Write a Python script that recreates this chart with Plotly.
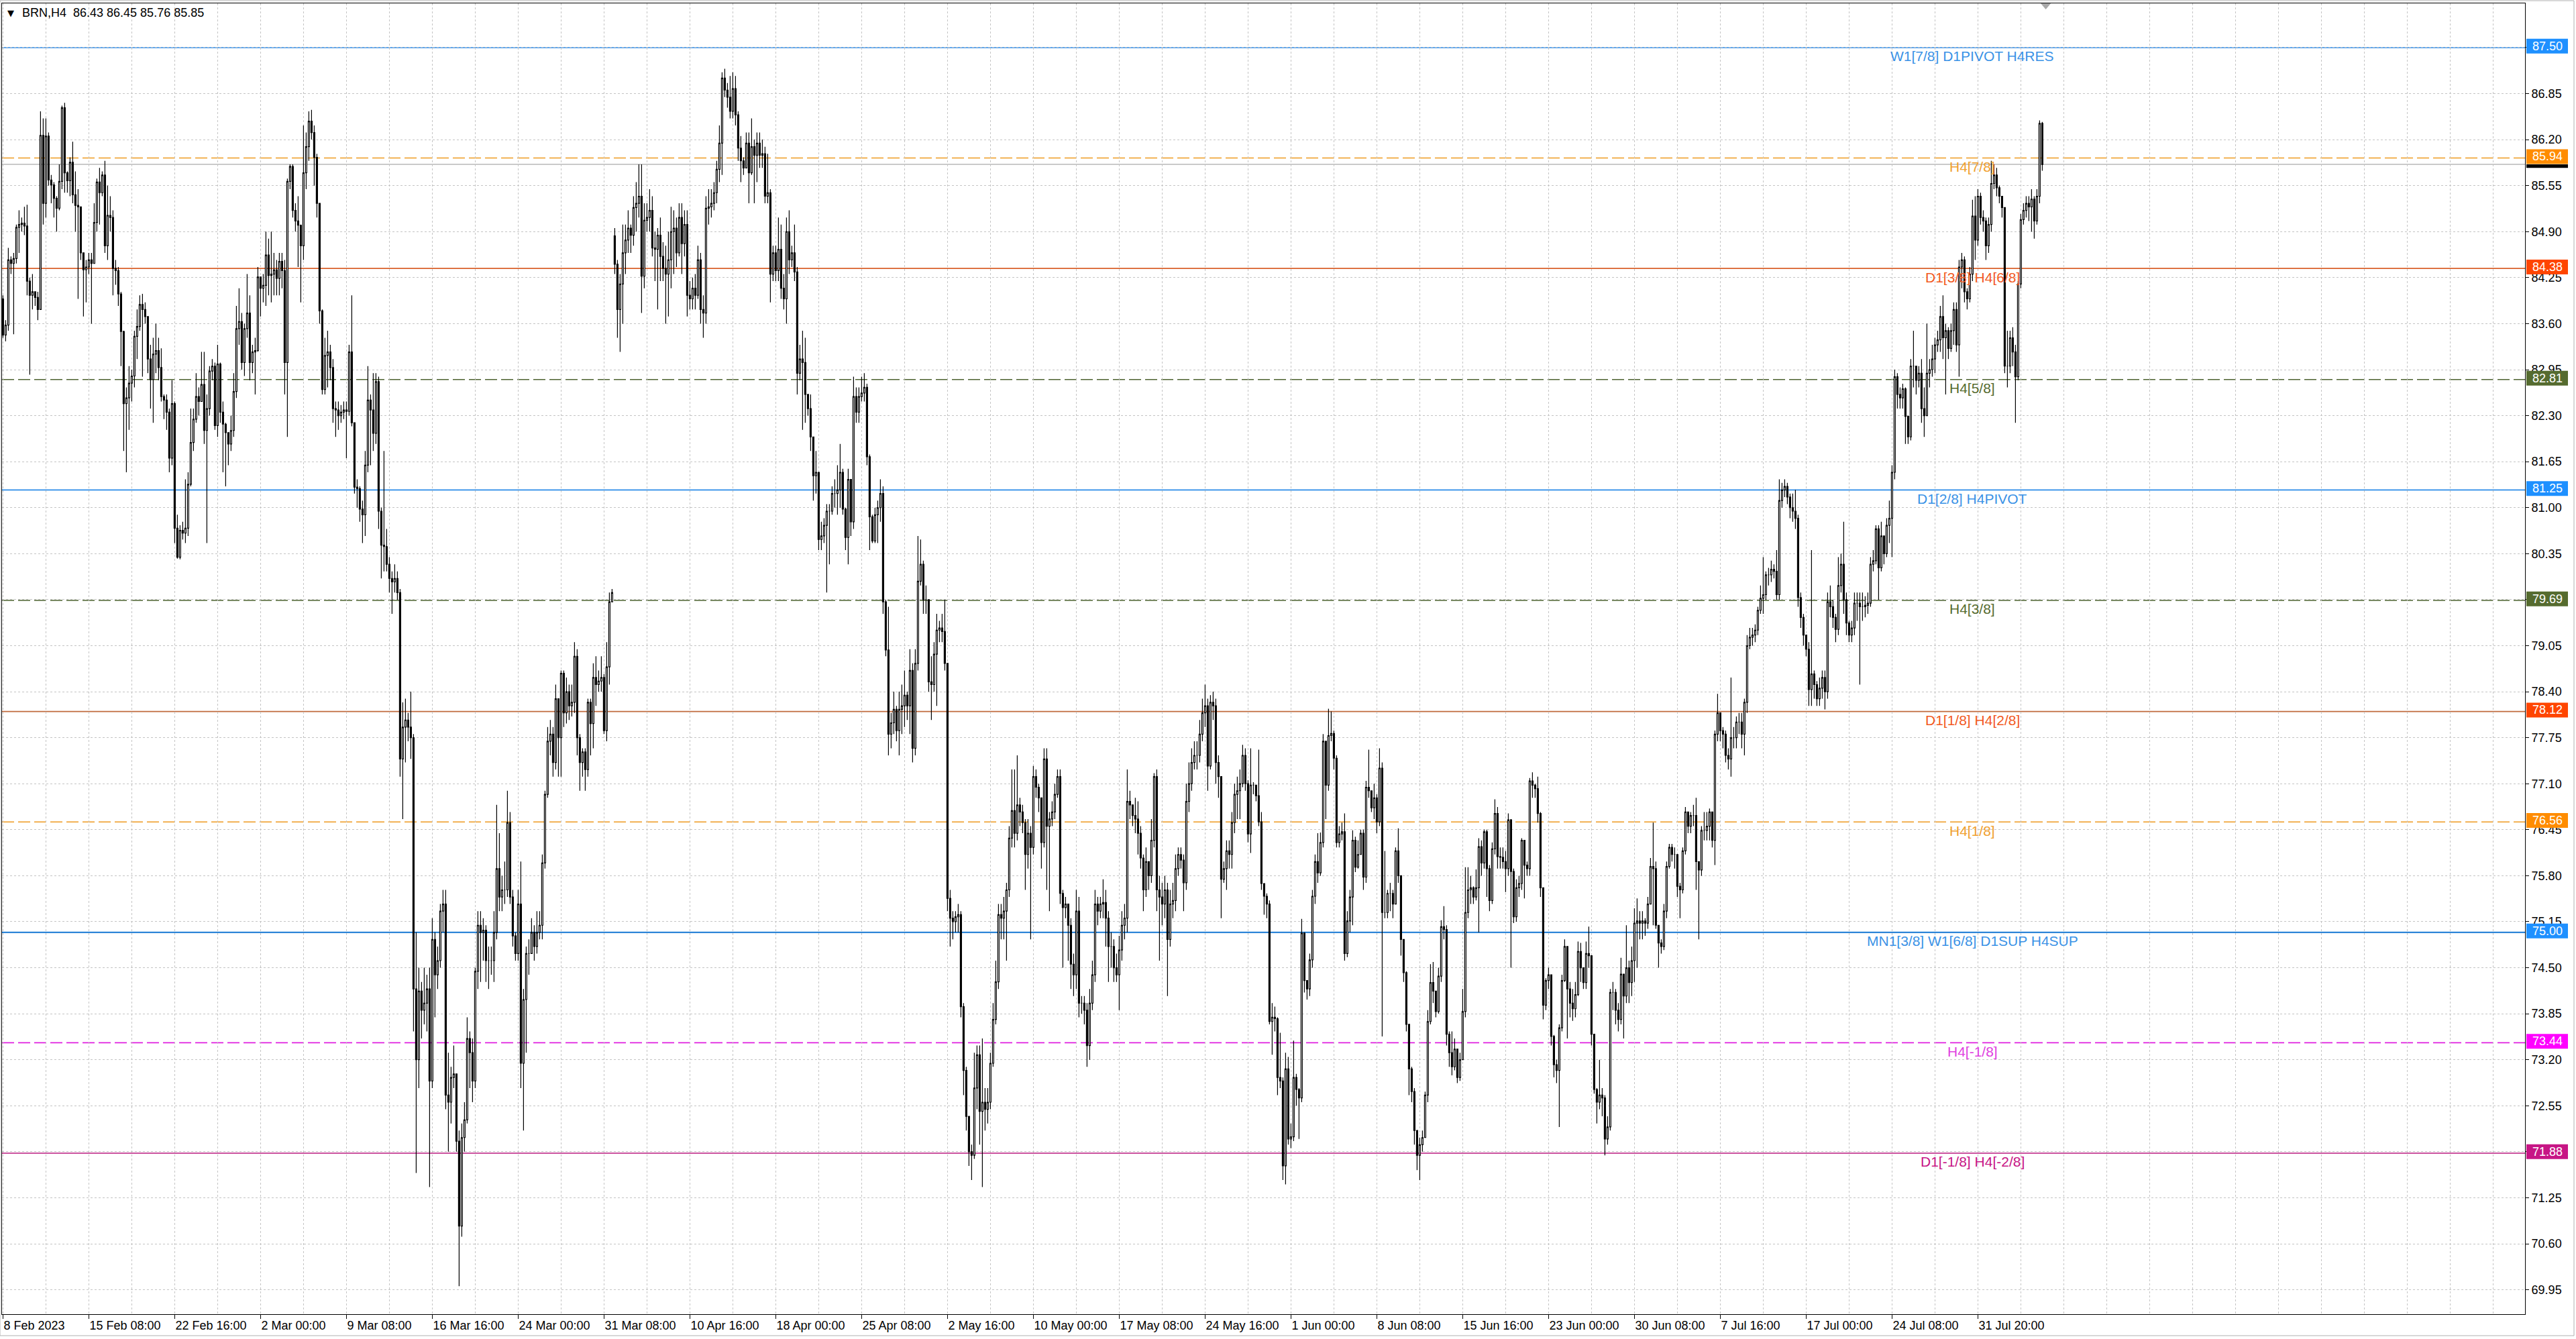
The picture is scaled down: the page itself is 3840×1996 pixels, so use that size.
# BRN H4 candlestick chart with Murrey-style level lines, MT4 look
import plotly.graph_objects as go

# ---- data (H4 bars, index 0 = 8 Feb 2023 00:00) ----
first_open = 83.95
gap_open = {228: 84.84}   # weekend gap after 31 Mar

close_px = [
    83.44, 83.58, 84.50, 84.45, 84.52, 84.96, 85.00, 85.02, 84.98, 84.20,
    84.00, 84.05, 83.97, 83.80, 86.26, 85.30, 86.25, 85.63, 85.56, 85.37,
    85.23, 85.61, 86.65, 85.73, 85.62, 85.88, 85.42, 85.27, 85.25, 84.60,
    84.36, 84.40, 84.50, 84.45, 85.03, 85.60, 85.45, 85.70, 84.70, 85.13,
    85.10, 84.38, 84.35, 84.02, 83.49, 82.47, 82.55, 82.76, 82.86, 83.42,
    83.56, 83.87, 83.80, 83.70, 83.10, 82.81, 83.17, 83.22, 82.98, 82.57,
    82.52, 82.35, 81.70, 82.47, 80.71, 80.30, 80.68, 80.64, 80.71, 81.33,
    81.92, 82.25, 82.57, 82.50, 82.74, 82.09, 82.40, 82.93, 83.00, 82.16,
    83.03, 82.35, 82.18, 82.06, 81.90, 82.09, 82.64, 83.53, 83.63, 83.05,
    83.53, 83.75, 83.05, 83.20, 83.22, 84.26, 84.10, 84.14, 84.57, 84.28,
    84.30, 84.36, 84.24, 84.48, 84.35, 83.05, 85.61, 85.82, 85.20, 85.05,
    84.99, 84.70, 85.73, 86.10, 86.46, 86.30, 85.95, 85.30, 83.78, 82.67,
    83.15, 83.20, 82.98, 82.40, 82.38, 82.30, 82.35, 82.38, 82.36, 83.20,
    82.20, 81.29, 81.27, 80.98, 80.90, 81.60, 82.52, 82.38, 82.05, 82.78,
    80.95, 80.47, 80.45, 80.20, 80.00, 79.95, 80.00, 79.80, 77.45,
    77.90, 78.00, 77.90, 77.75, 74.20, 73.20, 74.17, 73.90, 74.00, 74.20,
    72.90, 74.90, 74.40, 74.60, 75.30, 75.40, 72.70, 72.60, 72.95, 73.00,
    72.05, 70.85, 72.10, 72.35, 73.50, 73.30, 72.90, 74.45, 75.10, 75.00,
    75.03, 74.60, 74.60, 74.60, 75.00, 75.90, 75.50, 75.60, 75.60, 76.55,
    75.50, 74.95, 74.70, 75.40, 73.15, 74.05, 74.70, 74.70, 75.00, 74.80,
    75.00, 75.10, 75.98, 76.95, 77.70, 77.80, 77.40, 78.30, 77.75, 78.66,
    78.10, 78.40, 78.20, 78.25, 78.90, 77.75, 77.40, 77.55, 77.30, 78.25,
    77.95, 78.60, 78.50, 78.55, 78.60, 77.85, 78.75, 79.67, 79.80,
    84.44, 83.80, 84.16, 84.60, 84.78, 84.95, 84.85, 85.24, 85.30, 85.40,
    84.27, 85.06, 85.10, 85.20, 84.67, 84.65, 84.85, 84.55, 84.38, 84.30,
    84.50, 84.90, 84.95, 84.60, 85.10, 84.73, 85.00, 84.00, 83.95, 84.10,
    84.00, 84.50, 83.80, 83.75, 85.23, 85.25, 85.30, 85.45, 85.78, 86.15,
    87.07, 86.90, 86.80, 86.60, 86.92, 86.55, 86.08, 85.90, 85.80, 86.15,
    85.73, 86.10, 85.98, 86.15, 85.98, 86.00, 85.40, 85.45, 84.30, 84.60,
    84.35, 84.65, 84.10, 83.95, 84.90, 84.50, 84.60, 84.33, 82.90, 83.10,
    83.05, 82.60, 82.40, 82.00, 81.45, 81.50, 80.55, 80.60, 80.75, 80.95,
    80.95, 81.20, 81.20, 81.25, 81.50, 80.98, 80.58, 81.40, 80.80, 82.57,
    82.35, 82.57, 82.62, 82.70, 81.72, 80.87, 80.53, 80.90, 81.00, 81.20,
    79.67, 78.99, 77.80, 77.96, 78.15, 77.85, 78.15, 78.20, 78.35, 78.20,
    78.70, 77.60, 78.80, 79.96, 80.20, 79.70, 79.70, 78.54, 78.50, 78.93,
    79.27, 79.30, 79.25, 78.80, 75.48, 75.20, 75.15, 75.22, 75.25, 73.95,
    73.05, 72.40, 71.90, 71.85, 72.80, 73.27, 72.47, 72.60, 72.50, 72.60,
    73.15, 73.77, 74.30, 75.25, 75.20, 75.30, 75.60, 76.33, 76.72, 76.40,
    76.80, 76.70, 76.55, 76.10, 76.40, 76.20, 77.20, 77.05, 76.90, 76.27,
    77.45, 76.50, 76.60, 76.70, 76.95, 77.20, 75.55, 75.35, 75.40, 75.10,
    74.55, 74.40, 75.30, 74.00, 74.00, 73.90, 73.40, 74.00, 74.40, 75.40,
    75.30, 75.40, 75.42, 75.20, 74.80, 74.80, 74.50, 74.40, 74.75, 75.10,
    75.20, 76.85, 76.80, 76.65, 76.60, 76.40, 76.05, 75.60, 76.00, 75.80,
    76.30, 77.20, 75.60, 75.50, 75.40, 75.60, 74.90, 75.40, 75.45, 75.90,
    76.10, 76.02, 75.70, 76.85, 77.10, 77.40, 77.50, 77.50, 77.80, 78.10,
    78.20, 77.35, 78.25, 78.20, 77.40, 77.20, 75.75, 75.90, 76.15, 76.10,
    76.55, 76.95, 77.00, 77.10, 77.50, 77.10,
    76.39, 77.08, 77.08, 76.93, 76.56, 75.69, 75.51, 75.40, 73.74, 73.80,
    73.78, 72.95, 72.90, 71.70, 73.07, 72.08, 72.11, 72.95, 72.78, 72.66,
    74.99, 74.32, 74.20, 74.61, 75.51, 76.00, 75.84, 76.27, 77.70, 77.08,
    77.78, 77.81, 77.46, 76.27, 76.39, 76.42, 74.70, 75.16, 75.50, 76.30,
    75.92, 76.10, 76.40, 75.78, 77.05, 77.00, 76.76, 76.90, 76.56, 77.32,
    75.28, 75.28, 75.55, 75.55, 75.40, 76.15, 75.80, 74.90, 74.43, 73.70,
    73.07, 72.75, 72.20, 71.85, 72.00, 72.10, 72.70, 73.74, 74.29, 74.17,
    73.88, 74.38, 75.08, 75.04, 73.56, 73.30, 73.10, 73.35, 72.95, 73.20,
    73.88, 75.28, 75.60, 75.63, 75.50, 75.63, 76.21, 75.98, 76.42, 75.90,
    75.45, 76.18, 76.68, 76.07, 76.06, 76.00, 75.90, 76.59, 75.86, 75.22,
    75.63, 75.69, 76.30, 75.95, 75.90, 77.14, 77.08, 77.03, 76.68, 75.63,
    73.97, 74.32, 74.40, 73.53, 73.13, 73.05, 73.65, 74.32, 74.80, 74.20,
    74.00, 73.92, 74.12, 74.73, 74.50, 74.29, 74.70, 74.67, 73.56, 72.78,
    72.60, 72.70, 72.66, 72.08, 72.25, 74.15, 74.15, 73.90, 73.77, 74.41,
    74.10, 74.50, 74.29, 74.60, 75.13, 75.16, 75.13, 75.16, 75.13,
    75.40, 75.93, 75.90, 75.10, 74.85, 74.80, 75.30, 75.93, 76.20, 76.10,
    76.10, 75.65, 75.60, 76.15, 76.70, 76.50, 76.65, 76.65, 76.00, 75.88,
    76.44, 76.44, 76.50, 76.70, 76.30, 77.80, 78.10, 77.85, 77.80, 77.50,
    77.45, 77.75, 77.75, 77.97, 77.97, 77.80, 78.25, 79.05, 79.17, 79.20,
    79.27, 79.55, 79.72, 79.77, 80.05, 80.05, 80.13, 80.10, 79.77, 81.10,
    81.25, 81.30, 81.15, 81.00, 80.95, 80.85, 79.73, 79.45, 79.20, 79.00,
    78.43, 78.65, 78.50, 78.30, 78.45, 78.60, 78.40, 79.67, 79.60, 79.45,
    79.28, 79.90, 80.20, 79.70, 79.37, 79.20, 79.30, 79.65, 79.65, 79.60,
    79.60, 79.62, 79.65, 80.20, 80.25, 80.70, 80.15, 80.60, 80.35, 80.75,
    80.85, 81.50, 82.85, 82.60, 82.55, 82.68, 82.29, 82.00, 83.00, 83.00,
    82.80, 82.90, 82.40, 82.30, 82.90, 82.95, 83.10, 83.30, 83.37, 83.70,
    83.40, 83.50, 83.25, 83.50, 83.80, 83.30, 84.40, 84.50, 84.05, 83.95,
    84.30, 85.12, 84.78, 85.40, 85.10, 85.05, 84.70, 85.00, 85.58, 85.70,
    85.52, 85.40, 85.24, 83.00, 83.00, 83.40, 83.20, 82.85, 84.16, 85.07,
    85.20, 85.30, 85.25, 85.36, 85.05, 85.40, 86.43, 85.85,
]

high_px = [
    84.00, 83.65, 84.67, 84.55, 84.60, 85.00, 85.20, 85.10, 85.25, 85.28,
    84.25, 84.30, 84.05, 84.05, 86.60, 86.50, 86.50, 86.30, 85.70, 85.60,
    85.40, 85.85, 86.68, 86.72, 85.75, 85.95, 86.17, 85.75, 85.50, 85.20,
    84.60, 84.50, 84.60, 84.60, 85.30, 85.65, 85.80, 85.75, 85.90, 85.55,
    85.40, 85.20, 84.50, 84.40, 84.05, 83.50, 82.70, 83.00, 82.95, 83.50,
    83.80, 84.00, 84.02, 83.90, 83.70, 83.30, 83.40, 83.60, 83.40, 83.25,
    82.60, 82.60, 82.40, 82.80, 82.50, 80.90, 80.75, 80.80, 81.40, 81.50,
    82.40, 82.40, 82.90, 82.70, 83.20, 83.20, 82.60, 83.00, 83.10, 83.05,
    83.30, 83.05, 82.50, 82.20, 82.00, 82.30, 82.90, 83.85, 84.10, 83.75,
    83.60, 84.30, 84.00, 83.30, 83.40, 84.40, 84.20, 84.30, 84.90, 84.80,
    84.90, 84.60, 84.50, 84.60, 84.60, 84.50, 85.65, 85.85, 85.85, 85.30,
    85.40, 85.00, 86.40, 86.30, 86.60, 86.62, 86.40, 86.00, 85.30, 83.80,
    83.40, 83.50, 83.30, 83.10, 82.50, 82.50, 82.45, 82.50, 82.50, 83.30,
    84.00, 82.20, 81.40, 81.30, 81.10, 81.80, 83.00, 82.60, 82.90, 82.90,
    82.85, 81.00, 81.80, 80.70, 80.30, 80.10, 80.20, 80.10, 79.85,
    78.25, 78.30, 78.10, 78.40, 77.80, 75.00, 74.50, 74.30, 74.50, 74.40,
    74.50, 75.20, 75.00, 74.80, 75.40, 75.60, 75.60, 73.30, 73.10, 73.40,
    73.00, 72.20, 72.30, 72.60, 73.80, 73.60, 73.50, 74.50, 75.30, 75.30,
    75.20, 75.10, 74.80, 74.80, 75.30, 76.80, 76.40, 75.80, 76.00, 77.00,
    76.70, 75.60, 75.00, 75.60, 76.00, 74.20, 74.80, 74.90, 75.20, 75.10,
    75.30, 75.30, 76.10, 77.00, 77.90, 78.00, 77.90, 78.50, 78.30, 78.70,
    78.70, 78.60, 78.50, 78.50, 79.10, 79.00, 77.80, 77.60, 77.60, 78.30,
    78.30, 78.80, 78.90, 78.70, 78.90, 78.65, 79.10, 79.80, 79.85,
    84.95, 84.50, 84.30, 85.00, 85.00, 85.20, 85.00, 85.40, 85.60, 85.85,
    85.85, 85.30, 85.30, 85.50, 85.40, 84.90, 84.95, 85.10, 84.75, 84.70,
    84.90, 85.25, 85.20, 85.10, 85.30, 85.30, 85.20, 85.20, 84.20, 84.25,
    84.30, 84.70, 84.60, 84.00, 85.40, 85.50, 85.50, 85.60, 85.90, 86.40,
    87.15, 87.20, 87.00, 87.10, 87.15, 87.10, 86.60, 86.25, 85.95, 86.30,
    86.30, 86.50, 86.20, 86.30, 86.30, 86.20, 86.10, 86.00, 85.50, 84.70,
    84.70, 85.10, 85.00, 84.30, 85.10, 85.20, 84.70, 85.00, 84.40, 83.30,
    83.50, 83.40, 82.60, 82.60, 82.00, 81.80, 81.50, 80.80, 80.85, 81.05,
    81.05, 81.30, 81.40, 81.60, 81.90, 81.55, 81.00, 81.55, 81.40, 82.85,
    82.70, 82.70, 82.85, 82.90, 82.75, 81.75, 80.90, 81.00, 81.10, 81.40,
    81.30, 79.70, 79.60, 78.10, 78.40, 78.20, 78.40, 78.50, 78.70, 78.40,
    79.00, 78.80, 79.00, 80.60, 80.55, 80.25, 79.90, 79.70, 78.90, 79.10,
    79.50, 79.40, 79.50, 79.70, 78.80, 75.60, 75.30, 75.30, 75.40, 75.30,
    74.00, 73.10, 72.40, 72.00, 73.30, 73.40, 73.40, 73.50, 72.80, 72.80,
    73.30, 74.00, 74.60, 75.40, 75.40, 75.50, 75.70, 76.50, 77.30, 77.30,
    77.50, 76.90, 76.80, 76.60, 76.60, 76.50, 77.35, 77.30, 77.10, 76.90,
    77.60, 77.60, 76.70, 76.85, 77.10, 77.30, 77.30, 75.60, 75.50, 75.40,
    75.20, 74.70, 75.60, 75.50, 74.10, 74.10, 74.00, 74.20, 74.60, 75.60,
    75.50, 75.50, 75.75, 75.60, 75.30, 75.00, 74.90, 74.70, 74.95, 75.30,
    75.40, 77.30, 77.00, 76.80, 76.90, 76.85, 76.50, 76.10, 76.20, 76.00,
    76.60, 77.25, 77.30, 75.80, 75.70, 75.80, 75.70, 75.60, 75.70, 76.10,
    76.20, 76.20, 76.10, 77.10, 77.40, 77.60, 77.70, 77.70, 78.00, 78.30,
    78.50, 78.30, 78.35, 78.40, 78.30, 77.50, 77.20, 76.00, 76.30, 76.30,
    76.70, 77.10, 77.20, 77.30, 77.65, 77.60,
    77.15, 77.60, 77.12, 77.05, 77.58, 76.70, 75.69, 75.55, 75.45, 74.00,
    73.95, 73.80, 73.58, 72.95, 73.30, 73.24, 72.30, 73.47, 73.00, 72.80,
    75.19, 75.00, 74.30, 74.70, 75.60, 76.10, 76.40, 76.41, 77.80, 77.70,
    78.16, 78.12, 77.85, 77.50, 76.50, 76.55, 76.68, 75.30, 75.60, 76.44,
    76.35, 76.30, 76.45, 76.45, 77.14, 77.58, 77.00, 77.10, 76.95, 77.60,
    77.40, 76.15, 75.60, 75.70, 75.60, 76.20, 76.47, 75.80, 74.90, 74.45,
    73.70, 73.10, 72.80, 72.20, 72.10, 72.20, 72.75, 73.90, 74.55, 74.58,
    74.10, 74.50, 75.17, 75.37, 75.10, 73.60, 73.60, 73.50, 73.35, 73.30,
    74.20, 75.92, 75.92, 75.80, 75.65, 75.89, 76.33, 76.30, 76.45, 76.45,
    75.95, 76.27, 76.88, 76.77, 76.20, 76.20, 76.15, 76.68, 76.60, 75.90,
    75.75, 75.80, 76.33, 76.30, 76.00, 77.18, 77.26, 77.10, 77.20, 76.70,
    75.63, 74.35, 74.50, 74.40, 73.55, 73.20, 73.70, 74.40, 74.90, 74.80,
    74.30, 74.20, 74.30, 74.87, 74.85, 74.50, 74.87, 75.08, 74.67, 73.56,
    72.80, 73.20, 72.80, 72.70, 72.40, 74.20, 74.30, 74.20, 74.00, 74.64,
    74.40, 75.10, 74.60, 74.80, 75.34, 75.48, 75.30, 75.30, 75.20,
    75.50, 76.05, 76.55, 76.00, 75.10, 74.90, 75.40, 76.00, 76.25, 76.25,
    76.20, 76.10, 75.70, 76.20, 76.77, 76.70, 76.70, 76.80, 76.90, 76.00,
    76.50, 76.70, 76.70, 76.75, 76.70, 77.85, 78.37, 78.10, 77.90, 77.85,
    77.60, 78.60, 77.90, 78.05, 78.10, 78.10, 78.30, 79.20, 79.30, 79.30,
    79.35, 79.60, 79.90, 80.30, 80.10, 80.15, 80.25, 80.20, 80.40, 81.40,
    81.35, 81.40, 81.35, 81.20, 81.20, 81.25, 80.90, 79.80, 79.50, 79.20,
    79.10, 80.40, 78.70, 78.55, 78.60, 78.70, 78.70, 79.80, 79.90, 79.70,
    79.50, 80.30, 80.35, 80.80, 79.80, 79.40, 79.40, 79.80, 79.80, 79.80,
    79.80, 79.75, 79.80, 80.30, 80.40, 80.75, 80.75, 80.80, 80.60, 80.85,
    81.10, 81.60, 82.95, 82.90, 82.70, 82.75, 82.70, 82.30, 83.10, 83.50,
    83.00, 83.00, 83.10, 82.70, 83.60, 83.10, 83.30, 83.40, 83.50, 83.85,
    84.00, 83.60, 83.55, 83.60, 83.90, 83.90, 84.50, 84.60, 84.55, 84.10,
    84.40, 85.35, 85.40, 85.50, 85.45, 85.20, 85.10, 85.10, 85.90, 85.85,
    85.80, 85.55, 85.40, 85.24, 83.50, 83.50, 83.55, 83.30, 84.20, 85.15,
    85.30, 85.40, 85.40, 85.50, 85.40, 85.50, 86.47, 86.45,
]

low_px = [
    83.40, 83.35, 83.50, 84.30, 83.45, 84.45, 84.60, 84.90, 84.85, 84.00,
    82.88, 83.80, 83.85, 83.65, 83.80, 85.00, 85.10, 85.55, 85.30, 85.10,
    84.90, 85.20, 85.50, 85.45, 85.45, 85.40, 85.30, 84.90, 83.95, 84.50,
    83.70, 83.90, 84.30, 83.60, 84.45, 84.90, 85.00, 85.40, 84.60, 84.50,
    84.90, 84.00, 84.15, 83.85, 83.00, 81.80, 81.50, 82.10, 82.50, 82.70,
    83.10, 83.50, 82.85, 83.60, 82.90, 82.40, 82.20, 82.90, 82.80, 82.50,
    82.25, 82.10, 81.50, 81.60, 80.50, 80.28, 80.27, 80.55, 80.50, 80.60,
    81.30, 81.80, 82.20, 82.30, 82.50, 81.90, 80.50, 82.30, 82.80, 82.10,
    82.00, 82.20, 81.50, 81.30, 81.60, 81.80, 82.00, 82.55, 83.30, 82.95,
    82.86, 83.40, 82.80, 82.90, 82.60, 83.20, 83.70, 83.90, 83.85, 84.00,
    83.90, 84.00, 84.00, 84.00, 84.10, 82.60, 82.00, 85.50, 85.10, 84.90,
    84.40, 83.90, 84.50, 85.50, 85.90, 86.20, 85.55, 85.10, 83.60, 82.60,
    82.60, 82.70, 82.80, 82.20, 82.00, 82.10, 82.20, 82.25, 81.70, 82.30,
    82.15, 81.20, 81.00, 80.80, 80.50, 80.60, 81.50, 81.60, 81.80, 81.90,
    80.70, 80.00, 80.10, 80.10, 79.80, 79.50, 79.80, 79.70, 77.20,
    76.60, 77.40, 77.70, 77.45, 73.60, 71.60, 72.80, 73.50, 73.70, 73.60,
    71.40, 72.80, 73.80, 74.20, 74.50, 75.00, 72.50, 71.90, 72.30, 72.80,
    71.90, 70.00, 70.70, 71.90, 72.30, 72.80, 72.60, 72.80, 74.20, 74.30,
    74.60, 74.30, 74.20, 74.40, 74.30, 74.90, 75.30, 75.30, 75.40, 75.50,
    75.40, 74.80, 74.60, 74.60, 72.80, 72.20, 73.30, 74.40, 74.80, 74.60,
    74.70, 74.90, 74.90, 75.90, 76.90, 77.50, 77.20, 77.30, 77.20, 77.20,
    77.90, 77.95, 78.00, 78.05, 78.10, 77.50, 77.00, 77.20, 77.00, 77.20,
    77.50, 77.60, 78.20, 78.40, 78.40, 77.80, 77.70, 78.50, 79.70,
    84.30, 83.40, 83.20, 83.60, 84.30, 84.60, 84.60, 84.70, 84.90, 85.10,
    83.75, 84.10, 84.90, 84.90, 84.55, 84.20, 83.80, 84.20, 84.20, 83.60,
    83.70, 84.10, 84.30, 84.40, 84.55, 84.30, 84.55, 83.70, 83.80, 83.80,
    83.80, 83.95, 83.60, 83.40, 83.60, 85.00, 85.10, 85.20, 85.30, 85.60,
    85.70, 86.80, 86.65, 86.50, 86.50, 86.40, 85.90, 85.60, 85.70, 85.80,
    85.30, 85.70, 85.30, 85.60, 85.80, 85.80, 85.30, 85.30, 83.90, 84.20,
    84.20, 84.20, 83.95, 83.80, 83.60, 84.30, 84.40, 84.20, 82.60, 82.80,
    82.10, 82.20, 82.30, 81.80, 81.10, 81.20, 80.40, 80.40, 80.50, 79.80,
    80.20, 80.90, 81.00, 80.90, 81.00, 80.90, 80.40, 80.20, 80.60, 80.70,
    82.20, 82.20, 82.50, 82.50, 81.60, 80.40, 80.50, 80.50, 80.50, 80.80,
    79.50, 78.90, 77.50, 77.60, 77.80, 77.70, 77.50, 77.80, 77.90, 78.00,
    77.80, 77.40, 77.50, 78.70, 79.90, 79.50, 79.50, 78.40, 78.00, 78.40,
    78.20, 79.10, 79.10, 78.70, 75.30, 74.80, 74.90, 75.00, 75.00, 73.80,
    72.70, 72.20, 71.70, 71.50, 71.80, 72.50, 72.00, 71.40, 72.20, 72.30,
    72.50, 73.10, 73.70, 74.20, 74.90, 74.90, 74.60, 75.50, 76.20, 76.20,
    76.30, 76.50, 76.40, 75.60, 75.90, 74.90, 76.10, 76.90, 76.70, 75.90,
    76.20, 75.60, 75.30, 76.50, 76.60, 76.90, 75.40, 74.50, 75.20, 74.60,
    74.20, 74.10, 74.20, 73.80, 73.85, 73.70, 73.10, 73.20, 73.90, 74.30,
    75.10, 75.20, 75.20, 74.80, 74.30, 74.50, 74.30, 74.30, 73.90, 74.60,
    74.90, 75.00, 76.60, 76.50, 76.40, 76.10, 75.90, 75.30, 75.50, 75.60,
    75.70, 76.20, 75.30, 74.60, 75.10, 75.20, 74.10, 74.80, 75.20, 75.30,
    75.80, 75.90, 75.30, 75.60, 76.70, 77.00, 77.30, 77.30, 77.40, 77.70,
    77.90, 77.00, 77.30, 78.00, 77.10, 76.90, 75.20, 75.70, 75.60, 75.90,
    75.90, 76.40, 76.60, 76.60, 77.05, 77.00,
    76.27, 76.12, 76.95, 76.85, 76.50, 75.60, 75.25, 75.20, 73.70, 73.27,
    73.60, 72.70, 72.80, 71.50, 71.44, 72.00, 71.95, 72.05, 72.55, 72.08,
    72.60, 74.15, 74.05, 74.10, 74.50, 75.40, 75.70, 75.80, 76.20, 76.60,
    77.00, 77.70, 77.30, 76.20, 76.20, 76.30, 74.60, 74.65, 75.00, 75.10,
    75.85, 75.90, 76.10, 75.60, 75.70, 76.90, 76.70, 76.60, 76.40, 76.50,
    73.53, 75.20, 75.20, 75.30, 75.20, 75.40, 75.70, 74.67, 74.30, 73.60,
    72.70, 72.60, 72.00, 71.64, 71.50, 71.90, 72.10, 72.60, 73.70, 74.00,
    73.80, 73.85, 74.30, 74.90, 73.40, 73.10, 72.98, 73.05, 72.87, 72.90,
    73.20, 73.80, 75.20, 75.40, 75.40, 75.45, 75.00, 75.80, 75.90, 75.50,
    75.30, 75.40, 76.10, 75.90, 75.90, 75.90, 75.57, 75.80, 74.50, 75.13,
    75.15, 75.50, 75.60, 75.48, 75.80, 75.80, 76.90, 76.90, 76.55, 75.50,
    73.77, 73.90, 74.20, 73.40, 72.95, 72.87, 72.25, 73.60, 74.30, 73.50,
    73.80, 73.75, 73.80, 74.10, 74.30, 74.20, 74.20, 74.50, 73.40, 72.72,
    72.30, 72.50, 72.40, 71.85, 72.00, 72.20, 73.90, 73.70, 73.60, 73.70,
    73.50, 74.00, 74.00, 74.10, 74.30, 74.50, 74.90, 74.90, 74.95,
    75.05, 75.40, 75.10, 75.05, 74.50, 74.70, 74.75, 75.20, 75.90, 76.00,
    75.90, 75.50, 75.20, 75.55, 76.10, 76.40, 76.40, 76.50, 75.60, 74.90,
    75.80, 76.30, 76.30, 76.30, 76.20, 75.95, 77.70, 77.70, 77.60, 77.40,
    77.30, 77.20, 77.60, 77.60, 77.80, 77.60, 77.50, 78.10, 79.00, 79.05,
    79.10, 79.20, 79.50, 79.50, 79.70, 79.90, 79.95, 80.00, 79.70, 79.70,
    81.00, 81.15, 81.05, 80.85, 80.80, 80.70, 79.60, 79.30, 79.05, 78.90,
    78.20, 78.20, 78.30, 78.20, 78.20, 78.30, 78.15, 78.30, 79.45, 79.30,
    79.10, 79.20, 79.80, 79.50, 79.20, 79.10, 79.10, 79.20, 79.40, 78.50,
    79.40, 79.45, 79.50, 79.60, 80.10, 80.20, 79.70, 80.10, 80.20, 80.30,
    80.50, 80.30, 81.40, 82.40, 82.40, 82.40, 81.90, 81.90, 81.95, 82.70,
    82.60, 82.70, 82.20, 82.00, 82.30, 82.70, 82.85, 82.90, 83.20, 83.20,
    83.10, 82.60, 83.10, 83.20, 83.30, 83.20, 82.85, 84.10, 83.90, 83.80,
    83.90, 84.20, 84.50, 84.70, 85.00, 84.90, 84.50, 84.60, 84.90, 85.50,
    85.40, 85.30, 85.10, 82.90, 82.70, 82.90, 83.00, 82.20, 82.80, 84.10,
    85.00, 85.10, 85.05, 84.90, 84.80, 85.00, 85.30, 85.76,
]

tick_bars = [0, 32, 64, 96, 128, 160, 192, 224, 256, 288, 320, 352,
             384, 416, 448, 480, 512, 544, 576, 608, 640, 672, 704, 736]
tick_text = ["8 Feb 2023", "15 Feb 08:00", "22 Feb 16:00", "2 Mar 00:00",
             "9 Mar 08:00", "16 Mar 16:00", "24 Mar 00:00", "31 Mar 08:00",
             "10 Apr 16:00", "18 Apr 00:00", "25 Apr 08:00", "2 May 16:00",
             "10 May 00:00", "17 May 08:00", "24 May 16:00", "1 Jun 00:00",
             "8 Jun 08:00", "15 Jun 16:00", "23 Jun 00:00", "30 Jun 08:00",
             "7 Jul 16:00", "17 Jul 00:00", "24 Jul 08:00", "31 Jul 20:00"]

level_px = [87.50, 85.94, 84.38, 82.81, 81.25, 79.69, 78.12, 76.56, 75.00, 73.44, 71.88]
level_name = ["W1[7/8] D1PIVOT H4RES", "H4[7/8]", "D1[3/8] H4[6/8]", "H4[5/8]",
              "D1[2/8] H4PIVOT", "H4[3/8]", "D1[1/8] H4[2/8]", "H4[1/8]",
              "MN1[3/8] W1[6/8] D1SUP H4SUP", "H4[-1/8]", "D1[-1/8] H4[-2/8]"]
bid_px = 85.85
title_txt = "BRN,H4\u00a0\u00a086.43 86.45 85.76 85.85"

# ---- styles ----
BLUE, ORANGE, OREDL, OLIVE, MAGENTA, VIOLET = "#1E90FF", "#FF8C00", "#FF4500", "#556B2F", "#FF00FF", "#C71585"
line_style = {
    87.50: ("#2A8AE8", "solid", 1.6, BLUE, "#3A92E6"),
    85.94: ("#EE9A20", "18px,6px", 1.6, ORANGE, "#F0A030"),
    84.38: ("#D9602A", "solid", 1.6, OREDL, "#F25A22"),
    82.81: ("#4E6330", "18px,6px", 1.6, OLIVE, OLIVE),
    81.25: ("#2A8AE8", "solid", 1.6, BLUE, "#3A92E6"),
    79.69: ("#4E6330", "18px,6px", 1.6, OLIVE, OLIVE),
    78.12: ("#C06A3C", "solid", 1.6, OREDL, "#F25A22"),
    76.56: ("#EE9A20", "18px,6px", 1.6, ORANGE, "#F0A030"),
    75.00: ("#2F86D8", "solid", 2.2, BLUE, "#3A92E6"),
    73.44: ("#E020E0", "18px,6px", 1.6, MAGENTA, "#E040E0"),
    71.88: ("#B8187E", "solid", 1.6, VIOLET, VIOLET),
}

W, H = 3840, 1996
ML, MR, MT, MB = 3, 76, 5, 37
PW = W - ML - MR
PX_PER_UNIT = (H - MT - MB) / (88.125 - 69.605)
FONT = "Liberation Sans"

# opens: previous close unless a gap was visible
open_px = []
for i in range(len(close_px)):
    if i == 0:
        open_px.append(first_open)
    else:
        open_px.append(gap_open.get(i, close_px[i - 1]))
hi = [max(h, o, c) for h, o, c in zip(high_px, open_px, close_px)]
lo = [min(l, o, c) for l, o, c in zip(low_px, open_px, close_px)]
bars = list(range(len(close_px)))

fig = go.Figure()

fig.add_trace(go.Candlestick(
    x=bars, open=open_px, high=hi, low=lo, close=close_px,
    increasing=dict(line=dict(color="black", width=1.2), fillcolor="white"),
    decreasing=dict(line=dict(color="black", width=1.2), fillcolor="black"),
    whiskerwidth=0, hoverinfo="skip", showlegend=False,
))

# level lines
for p in level_px:
    lc, dash, lw, _, _ = line_style[p]
    fig.add_shape(type="line", xref="paper", x0=0, x1=1, yref="y", y0=p, y1=p,
                  line=dict(color=lc, width=lw, dash=dash), layer="between")
# bid line
fig.add_shape(type="line", xref="paper", x0=0, x1=1, yref="y", y0=bid_px, y1=bid_px,
              line=dict(color="#B8B8B8", width=1.4), layer="between")

# level labels on the chart
for p, name in zip(level_px, level_name):
    tc = line_style[p][4]
    fig.add_annotation(x=734, y=p, xref="x", yref="y", text=name, showarrow=False,
                       yshift=-13, font=dict(family=FONT, size=21, color=tc))

# price boxes on the right scale
bx0 = (3766 - ML) / PW
bx1 = (3828 - ML) / PW
half = 11 / PX_PER_UNIT
fig.add_shape(type="rect", xref="paper", x0=bx0, x1=bx1, yref="y",
              y0=bid_px - 0.05, y1=bid_px, fillcolor="black", line=dict(width=0), layer="above")
for p in level_px:
    bc = line_style[p][3]
    fig.add_shape(type="rect", xref="paper", x0=bx0, x1=bx1, yref="y",
                  y0=p - half + 0.02, y1=p + half + 0.02, fillcolor=bc,
                  line=dict(width=0), layer="above")
    fig.add_annotation(x=(bx0 + bx1) / 2, y=p + 0.02, xref="paper", yref="y",
                       text=f"{p:.2f}", showarrow=False, xanchor="center",
                       font=dict(family=FONT, size=18, color="white"))

# header text
fig.add_annotation(x=(9 - ML) / PW, y=1, xref="paper", yref="paper", text="\u25bc",
                   showarrow=False, xanchor="left", yanchor="top", yshift=-5,
                   font=dict(family="DejaVu Sans", size=13, color="black"))
fig.add_annotation(x=(31 - ML) / PW, y=1, xref="paper", yref="paper", text=title_txt,
                   showarrow=False, xanchor="left", yanchor="top", yshift=-2,
                   font=dict(family=FONT, size=18, color="black"))

# chart shift marker at the top
sx = 761.3
tri_h = 9 / (H - MT - MB)
fig.add_shape(type="path", xref="x", yref="paper",
              path=f"M {sx-1.9},1 L {sx+1.9},1 L {sx},{1-tri_h} Z",
              fillcolor="#A8A8A8", line=dict(width=0), layer="above")

# window frame
fig.add_shape(type="rect", xref="paper", yref="paper",
              x0=-ML / PW, x1=(W - ML - 3) / PW,
              y0=-(MB - 5) / (H - MT - MB), y1=1 + (MT - 1) / (H - MT - MB),
              line=dict(color="#B0B0B0", width=1), layer="above")

grid = dict(showgrid=True, gridcolor="#C4C4C4", gridwidth=1, griddash="3px,3px")

fig.update_layout(
    width=W, height=H,
    margin=dict(l=ML, r=MR, t=MT, b=MB, pad=0),
    paper_bgcolor="white", plot_bgcolor="white",
    font=dict(family=FONT, size=18, color="black"),
    showlegend=False,
    xaxis=dict(
        range=[-0.35, -0.35 + PW / 4.0],
        tickmode="array", tickvals=tick_bars, ticktext=tick_text,
        ticks="outside", ticklen=6, tickcolor="black",
        ticklabelposition="outside right",
        tickfont=dict(family=FONT, size=18, color="black"),
        minor=dict(tickmode="linear", tick0=0, dtick=16, showgrid=True,
                   gridcolor="#C4C4C4", griddash="3px,3px", ticks=""),
        showline=True, mirror=True, linecolor="black", linewidth=1,
        zeroline=False, rangeslider=dict(visible=False), fixedrange=True,
        **grid,
    ),
    yaxis=dict(
        side="right", range=[69.605, 88.125],
        tickmode="linear", tick0=69.95, dtick=0.65, tickformat=".2f",
        ticks="outside", ticklen=5, tickcolor="black",
        tickfont=dict(family=FONT, size=18, color="black"),
        showline=True, mirror=True, linecolor="black", linewidth=1,
        zeroline=False, fixedrange=True,
        **grid,
    ),
)

print(len(close_px), len(high_px), len(low_px))

fig.write_html("out.html", config={"displayModeBar": False},
               post_script="document.body.style.margin='0';document.body.style.overflow='hidden';")
